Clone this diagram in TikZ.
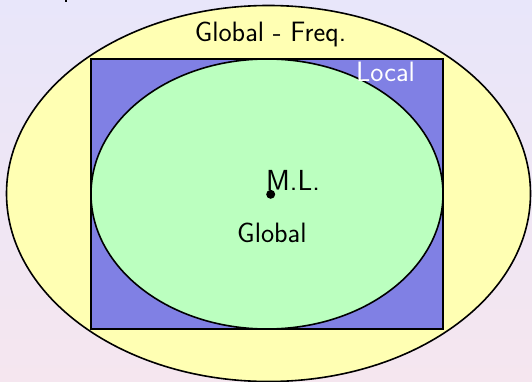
\documentclass[tikz,border=0pt]{standalone}
\usepackage{tikz}
\usetikzlibrary{shapes.geometric}
\definecolor{bgtop}{RGB}{232,230,250}
\definecolor{bgbot}{RGB}{245,230,239}
\definecolor{outerfill}{RGB}{255,255,179}
\definecolor{rectfill}{RGB}{128,128,228}
\definecolor{innerfill}{RGB}{187,255,191}
\tikzset{
  region/.style={draw=black, line width=1.6pt},
  lbl/.style={inner sep=0pt, font=\sffamily\fontsize{28}{33}\selectfont},
}
\begin{document}
\begin{tikzpicture}[x=1pt,y=-1pt]
\useasboundingbox (0,0) rectangle (532,382);
\shade[top color=bgtop, bottom color=bgbot] (0,0) rectangle (532,382);
% cropped descender at top
\fill[black] (65,0) rectangle (67,2.5);
\node[region, ellipse, fill=outerfill, minimum width=524pt, minimum height=376pt, inner sep=0pt] (outer) at (268.5,193.5) {};
\node[region, rectangle, fill=rectfill, minimum width=352pt, minimum height=270pt, inner sep=0pt] (loc) at (267,194) {};
\node[region, ellipse, fill=innerfill, minimum width=352pt, minimum height=270pt, inner sep=0pt] (inner) at (267,194) {};
\node[lbl, anchor=base] (gf) at (270.5,42) {Global - Freq.};
\node[lbl, anchor=base west, text=white] (lt) at (356,82) {Local};
\fill[black] (270.7,194.3) circle (4.5pt) coordinate (ml);
\node[lbl, anchor=base west, font=\sffamily\fontsize{29}{34}\selectfont] (mlt) at (266,190) {M.L.};
\node[lbl, anchor=base west] (gl) at (237,242) {Global};
\end{tikzpicture}
\end{document}
